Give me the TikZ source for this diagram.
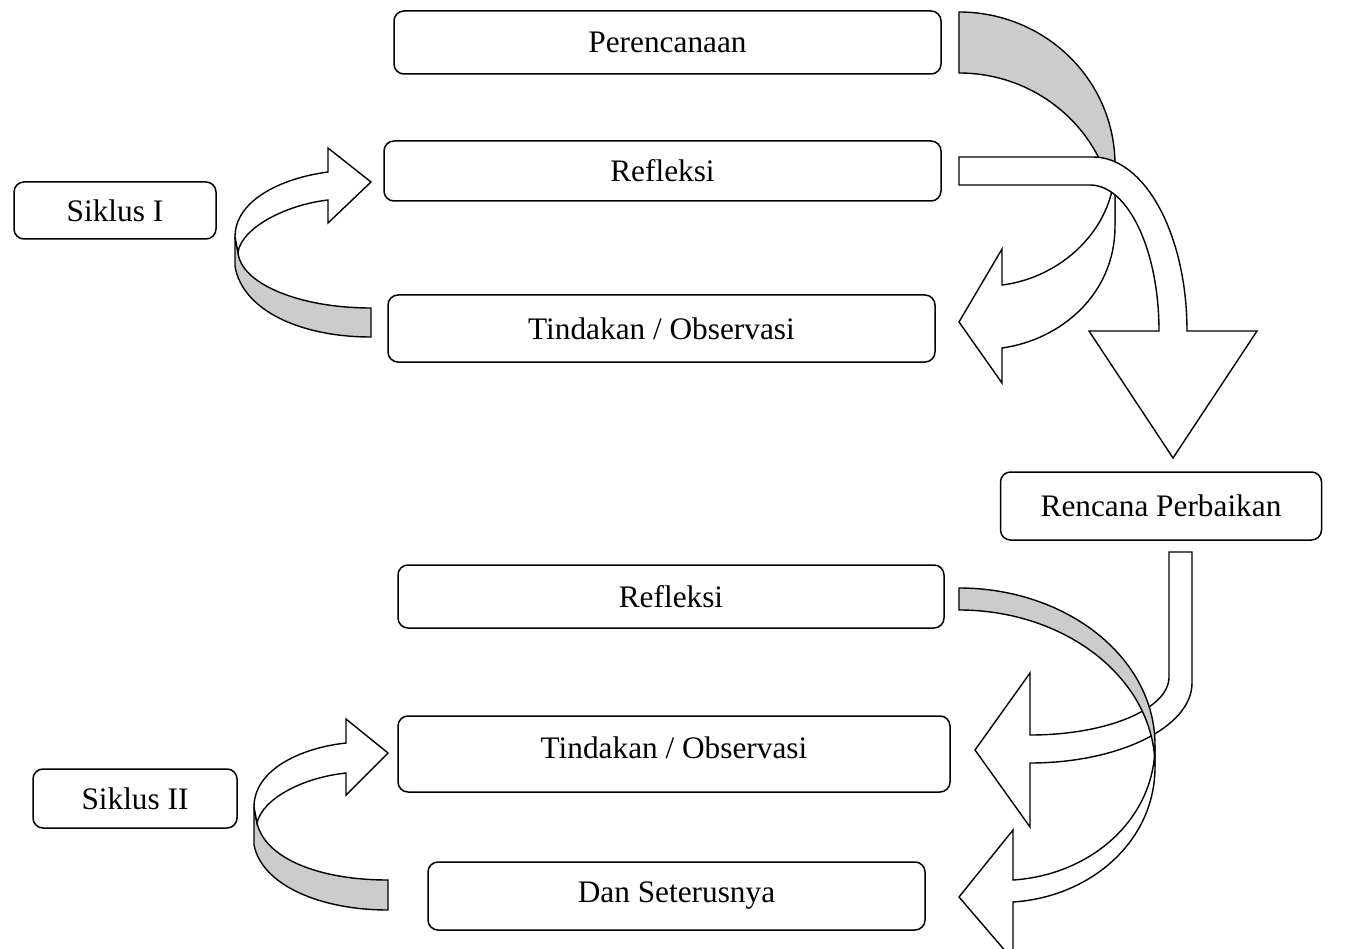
\documentclass[tikz,border=0pt]{standalone}
\usepackage{fontspec}
\setmainfont{Liberation Serif}
\usepackage{tikz}
\usetikzlibrary{positioning}
\tikzset{
tahap/.style={rectangle,rounded corners=10pt,
draw=black,line width=1.5pt,inner sep=0pt,
font=\fontsize{31.3}{36}\selectfont},
panah/.style={draw=black,line width=1.4pt,line join=miter,fill=white},
panahbelakang/.style={panah,fill=black!20}
}

\begin{document}
\begin{tikzpicture}[x=1pt,y=-1pt]
		\useasboundingbox (0,0) rectangle (1354,949);

		% siklus I
		\node [tahap,minimum width=547pt,minimum height=63pt] (plan) at (667.5,42.5) {Perencanaan};
		\node [tahap,minimum width=557pt,minimum height=60pt] (refA) at (662.5,171) {Refleksi};
		\node [tahap,minimum width=202pt,minimum height=57pt] (sikA) at (115,210.5) {Siklus I};
		\node [tahap,minimum width=547pt,minimum height=67pt] (tinA) at (661.5,328.5) {Tindakan / Observasi};
		\node [tahap,minimum width=321pt,minimum height=68pt] (renc) at (1161,506) {Rencana Perbaikan};

		% siklus II
		\node [tahap,minimum width=546pt,minimum height=63pt] (refB) at (671,596.5) {Refleksi};
		\node [tahap,minimum width=552pt,minimum height=76pt] (tinB) at (674,754) {\raisebox{12pt}{Tindakan / Observasi}};
		\node [tahap,minimum width=204pt,minimum height=59pt] (sikB) at (135,798.5) {Siklus II};
		\node [tahap,minimum width=497pt,minimum height=68pt] (dan) at (676.5,896) {Dan Seterusnya};

		% perencanaan -> tindakan
		\draw [panahbelakang] (959,12) .. controls (1045,12) and (1115,80) .. (1115,165)
		-- (1115,226) .. controls (1115,141) and (1045,73) .. (959,73) -- cycle;
		\draw [panah] (1115,165) .. controls (1115,230) and (1060,278) .. (1002,285)
		-- (1002,249) -- (959,322) -- (1002,383) -- (1002,348)
		.. controls (1060,340) and (1115,295) .. (1115,226) -- cycle;

		% refleksi -> rencana perbaikan
		\draw [panah] (959,157) -- (1093,157) .. controls (1145,157) and (1187,235) .. (1187,331)
		-- (1257,331) -- (1173,458) -- (1089,331) -- (1159,331)
		.. controls (1159,250) and (1128,185) .. (1090,185) -- (959,185) -- cycle;

		% tindakan -> refleksi (siklus I)
		\draw [panahbelakang] (235,237) -- (235,266) .. controls (242,310) and (300,337) .. (371,337)
		-- (371,308) .. controls (298,308) and (240,283) .. (238,252) -- cycle;
		\draw [panah] (235,237) .. controls (235,200) and (282,178) .. (328,172)
		-- (328,148) -- (371,182) -- (328,223) -- (328,200)
		.. controls (285,205) and (242,228) .. (238,252) -- cycle;

		% rencana perbaikan -> tindakan
		\draw [panah] (1169,552) -- (1169,677) .. controls (1169,709) and (1107,735) .. (1030,735)
		-- (1030,673) -- (975,750) -- (1030,827) -- (1030,763)
		.. controls (1119,763) and (1192,727) .. (1192,683) -- (1192,552) -- cycle;

		% refleksi -> dan seterusnya
		\draw [panahbelakang] (959,588) .. controls (1067,588) and (1155,658) .. (1155,745)
		-- (1155,767) .. controls (1155,680) and (1067,610) .. (959,610) -- cycle;
		\draw [panah] (1155,745) .. controls (1155,819) and (1091,875) .. (1013,880)
		-- (1013,830) -- (959,897) -- (1013,960) -- (1013,902)
		.. controls (1091,897) and (1155,841) .. (1155,767) -- cycle;

		% tindakan -> refleksi (siklus II)
		\draw [panahbelakang] (254,807) -- (254,845) .. controls (262,885) and (320,910) .. (388,910)
		-- (388,880) .. controls (318,880) and (265,858) .. (257,823) -- cycle;
		\draw [panah] (254,807) .. controls (254,770) and (300,748) .. (346,743)
		-- (346,719) -- (388,753) -- (346,795) -- (346,773)
		.. controls (300,778) and (262,800) .. (257,823) -- cycle;

	\end{tikzpicture}
\end{document}
